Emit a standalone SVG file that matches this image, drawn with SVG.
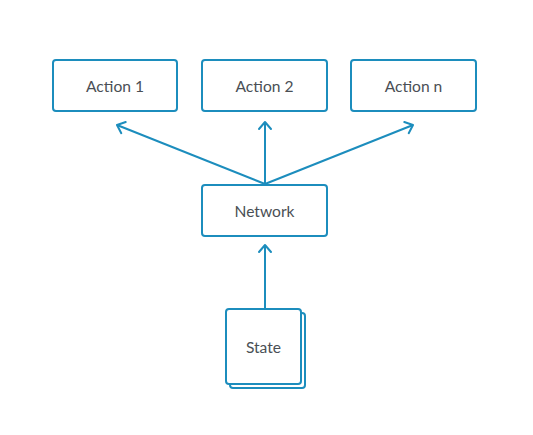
<svg xmlns="http://www.w3.org/2000/svg" width="533" height="435" viewBox="0 0 533 435">
<style>
.box{fill:#fff;stroke:#1c8dbd;stroke-width:2}
.lbl{font-family:Lato,"Noto Sans",sans-serif;font-size:15.6px;fill:#4a4f55;text-anchor:middle;dominant-baseline:central}
.edge{fill:none;stroke:#1c8dbd;stroke-width:2}
</style>
<defs>
<marker id="arr" markerUnits="userSpaceOnUse" viewBox="-10 -8 12 16" markerWidth="12" markerHeight="16" refX="0" refY="0" orient="auto">
<path d="M-7,-6 L0,0 L-7,6" fill="none" stroke="#1c8dbd" stroke-width="2" stroke-linecap="round" stroke-linejoin="round"/>
</marker>
</defs>
<rect width="533" height="435" fill="#fff"/>
<g id="connectors">
<line class="edge" x1="265" y1="184" x2="117" y2="125" marker-end="url(#arr)"/>
<line class="edge" x1="265" y1="184" x2="265" y2="122" marker-end="url(#arr)"/>
<line class="edge" x1="265" y1="184" x2="413" y2="125" marker-end="url(#arr)"/>
<line class="edge" x1="265" y1="308" x2="265" y2="245" marker-end="url(#arr)"/>
</g>
<g id="action1"><rect class="box" x="53" y="60" width="124" height="51" rx="3"/><text class="lbl" x="115" y="85.5">Action 1</text></g>
<g id="action2"><rect class="box" x="202" y="60" width="125" height="51" rx="3"/><text class="lbl" x="264.5" y="85.5">Action 2</text></g>
<g id="actionn"><rect class="box" x="351" y="60" width="125" height="51" rx="3"/><text class="lbl" x="413.5" y="85.5">Action n</text></g>
<g id="network"><rect class="box" x="202" y="185" width="125" height="51" rx="3"/><text class="lbl" x="264.5" y="210.5">Network</text></g>
<g id="state">
<rect class="box" x="230" y="313" width="75" height="75" rx="3"/>
<rect class="box" x="226" y="309" width="75" height="75" rx="3"/>
<text class="lbl" x="263.5" y="346.5">State</text>
</g>
</svg>
